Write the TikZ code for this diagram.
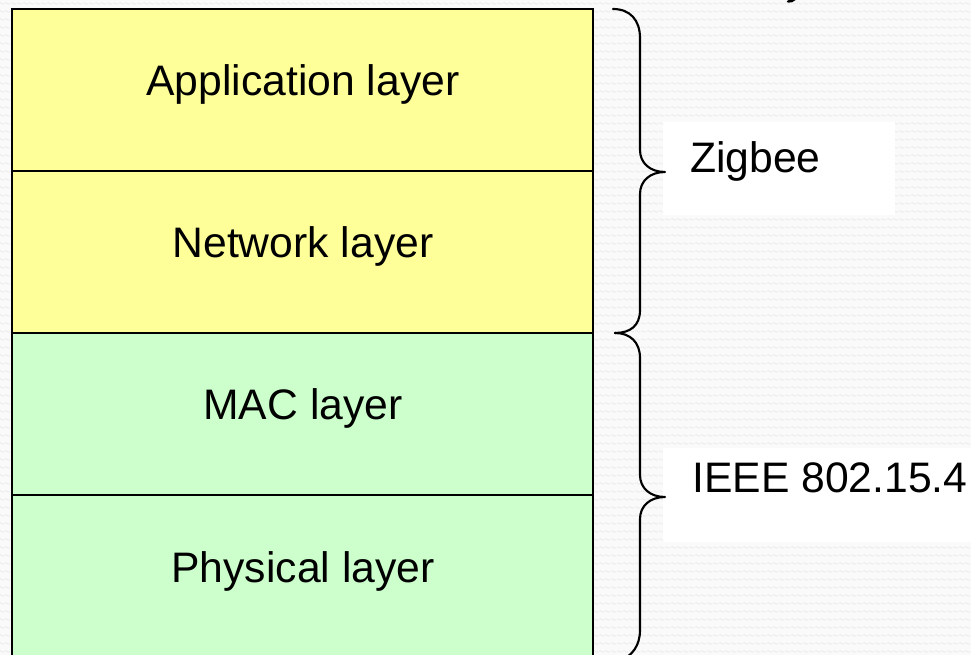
\documentclass[tikz,border=0pt]{standalone}
\usepackage{fontspec}
\setmainfont{Liberation Sans}
\usetikzlibrary{patterns}
\definecolor{bgpaper}{HTML}{FAFAFA}
\definecolor{bgwave}{HTML}{E7E7E7}
\definecolor{upperfill}{HTML}{FFFF99}
\definecolor{lowerfill}{HTML}{CCFFCC}
% one wavy stroke per tile, repeated over the paper
\pgfdeclarepatternformonly{paperwave}{\pgfpoint{0pt}{0pt}}{\pgfpoint{4.5pt}{6pt}}{\pgfpoint{4.5pt}{6pt}}{
  \pgfsetlinewidth{0.5pt}
  \pgfpathmoveto{\pgfpoint{0pt}{3pt}}
  \pgfpathsine{\pgfpoint{1.125pt}{0.7pt}}
  \pgfpathcosine{\pgfpoint{1.125pt}{-0.7pt}}
  \pgfpathsine{\pgfpoint{1.125pt}{-0.7pt}}
  \pgfpathcosine{\pgfpoint{1.125pt}{0.7pt}}
  \pgfusepath{stroke}
}
\begin{document}
\begin{tikzpicture}[x=0.75pt,y=-0.75pt,
  layerbox/.style={draw=black, line width=1.8pt, inner sep=0pt,
    minimum width=435.75pt, minimum height=121.5pt},
  layertext/.style={font=\fontsize{32}{38}\selectfont, anchor=base, inner sep=0pt},
  tagtext/.style={font=\fontsize{32}{38}\selectfont, anchor=base west, inner sep=0pt},
  bracepath/.style={draw=black, line width=1.6pt, line cap=round, line join=round}]
\useasboundingbox (0,0) rectangle (971,655);
\clip (0,0) rectangle (971,655);

% textured paper
\fill[bgpaper] (0,0) rectangle (971,655);
\fill[pattern=paperwave, pattern color=bgwave] (0,0) rectangle (971,655);

% white panels behind the group names
\fill[white] (663,122) rectangle (895,215);
\fill[white] (663,448) rectangle (975,542);

% protocol stack
\node[layerbox, fill=upperfill] (app) at (302.5,90) {};
\node[layerbox, fill=upperfill] (net) at (302.5,252) {};
\node[layerbox, fill=lowerfill] (mac) at (302.5,414) {};
\node[layerbox, fill=lowerfill] (phy) at (302.5,576) {};

\node[layertext] (appt) at (303,96) {Application layer};
\node[layertext] (nett) at (303,258) {Network layer};
\node[layertext] (mact) at (303,420) {MAC layer};
\node[layertext] (phyt) at (303,582) {Physical layer};

% braces grouping the layers
\draw[bracepath] (613,9) .. controls (630,9) and (640,20) .. (640,38)
  -- (640,150) .. controls (640,163) and (650,172) .. (665,172)
  .. controls (650,172) and (640,181) .. (640,194)
  -- (640,310) .. controls (640,326) and (630,333) .. (615,333);
\draw[bracepath] (615,333) .. controls (630,333) and (640,342) .. (640,358)
  -- (640,475) .. controls (640,488) and (650,497) .. (665,497)
  .. controls (650,497) and (640,506) .. (640,519)
  -- (640,630) .. controls (640,646) and (632,655) .. (622,660);

% group names
\node[tagtext] (zig) at (690,173) {Zigbee};
\node[tagtext] (ieee) at (692,493) {IEEE 802.15.4};

% tail of a glyph above the frame
\draw[line width=1.8pt, line cap=round] (788,1.5) .. controls (791,1.5) and (793,1) .. (795,-1);
\end{tikzpicture}
\end{document}
